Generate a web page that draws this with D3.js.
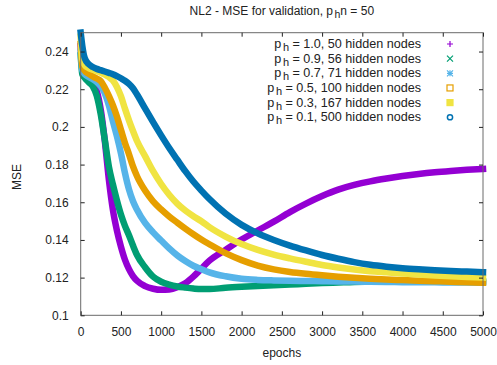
<!DOCTYPE html>
<html><head><meta charset="utf-8">
<script src="https://cdn.jsdelivr.net/npm/d3@7/dist/d3.min.js"></script>
<style>
body{margin:0;background:#fff}
text{font-family:"Liberation Sans",Arial,sans-serif;fill:#222}
</style>
</head><body>
<svg id="chart" width="497" height="365"></svg>
<script>
// ---- data ----
const epochs = [0,20,50,100,150,200,250,300,350,400,450,500,550,600,650,700,800,900,1000,1100,1200,1300,1400,1500,1600,1800,2000,2200,2400,2600,2800,3000,3200,3400,3600,3800,4000,4200,4400,4600,4800,5000];

const mse_ph10 = [0.243,0.232,0.2285,0.2265,0.2235,0.219,0.209,0.1925,0.172,0.156,0.145,0.1365,0.1295,0.1245,0.1208,0.1183,0.1155,0.1141,0.1135,0.1137,0.1149,0.117,0.1205,0.1248,0.129,0.1347,0.1402,0.145,0.1497,0.1548,0.1593,0.1633,0.1667,0.1692,0.1711,0.1726,0.1739,0.175,0.1759,0.1766,0.1772,0.1777];
const mse_ph09 = [0.238,0.228,0.226,0.2237,0.2215,0.2165,0.2065,0.193,0.179,0.1695,0.161,0.1535,0.1475,0.1425,0.137,0.132,0.1255,0.1205,0.1178,0.1163,0.1153,0.1147,0.1142,0.1139,0.1139,0.1146,0.1151,0.1155,0.1159,0.1163,0.1167,0.1171,0.1174,0.1177,0.1178,0.1179,0.1179,0.118,0.118,0.118,0.118,0.118];
const mse_ph07 = [0.240,0.230,0.228,0.2265,0.2253,0.2238,0.2215,0.2178,0.2115,0.203,0.195,0.186,0.1755,0.1668,0.1605,0.156,0.149,0.144,0.1397,0.1355,0.1318,0.1288,0.1263,0.1245,0.1228,0.1207,0.1194,0.1188,0.1185,0.1183,0.1182,0.1181,0.118,0.1179,0.1178,0.1177,0.1176,0.1175,0.1175,0.1174,0.1174,0.1173];
const mse_ph05 = [0.244,0.232,0.2298,0.2282,0.2268,0.2257,0.2243,0.2208,0.2165,0.2115,0.2055,0.1985,0.1915,0.1855,0.179,0.1738,0.1662,0.1605,0.1562,0.1525,0.1492,0.146,0.143,0.1402,0.1377,0.133,0.1293,0.1264,0.1244,0.123,0.122,0.1212,0.1205,0.1199,0.1194,0.119,0.1187,0.1184,0.1181,0.1178,0.1175,0.1173];
const mse_ph03 = [0.248,0.236,0.2328,0.2312,0.2303,0.2296,0.2288,0.2278,0.2265,0.2246,0.2212,0.2163,0.2097,0.2035,0.1978,0.1925,0.1845,0.1765,0.1697,0.164,0.1593,0.1556,0.1526,0.1499,0.1468,0.1418,0.1378,0.1347,0.1322,0.1302,0.1284,0.1267,0.1254,0.1243,0.1234,0.1228,0.1222,0.1216,0.1211,0.1207,0.1203,0.12];
const mse_ph01 = [0.25,0.243,0.2365,0.2333,0.2318,0.2308,0.2301,0.2294,0.2287,0.228,0.227,0.2258,0.2245,0.2228,0.2205,0.2172,0.2098,0.2025,0.1955,0.1888,0.1826,0.1765,0.171,0.1662,0.1617,0.154,0.148,0.1435,0.140,0.137,0.1344,0.132,0.13,0.1282,0.1268,0.1258,0.125,0.1244,0.1239,0.1235,0.1232,0.1229];

const ph = ["1.0","0.9","0.7","0.5","0.3","0.1"];
const hiddenNodes = [50,56,71,100,167,500];
const seriesValues = [mse_ph10,mse_ph09,mse_ph07,mse_ph05,mse_ph03,mse_ph01];
const colors = ["#9400d3","#009e73","#56b4e9","#e69f00","#f0e442","#0072b2"];
const symbols = ["plus","cross","star","square","filledSquare","circle"];

const xTickValues = [0,500,1000,1500,2000,2500,3000,3500,4000,4500,5000];
const yTickValues = [0.1,0.12,0.14,0.16,0.18,0.2,0.22,0.24];

// ---- layout ----
const svg = d3.select("#chart");
const L = 80.7, R = 483, T = 32.7, B = 315.3;
const x = d3.scaleLinear().domain([0,5000]).range([L,R]);
const y = d3.scaleLinear().domain([0.1,0.25]).range([B,T]);

// curves
const line = d3.line().x(d=>x(d[0])).y(d=>y(d[1])).curve(d3.curveMonotoneX);
const gCurves = svg.append("g");
seriesValues.forEach((vals,i)=>{
  gCurves.append("path")
    .datum(epochs.map((e,k)=>[e,vals[k]]))
    .attr("d",line)
    .attr("fill","none")
    .attr("stroke",colors[i])
    .attr("stroke-width",6.5)
    .attr("stroke-linejoin","round")
    .attr("stroke-linecap","square");
});

// border
svg.append("rect").attr("x",L).attr("y",T).attr("width",R-L).attr("height",B-T)
  .attr("fill","none").attr("stroke","#6a6a6a").attr("stroke-width",1);

// axes with inward ticks, mirrored
const fmtY = d => String(+d.toFixed(2));
const axB = svg.append("g").attr("transform",`translate(0,${B})`)
  .call(d3.axisBottom(x).tickValues(xTickValues).tickSize(-4).tickPadding(12).tickFormat(d3.format("d")));
const axT = svg.append("g").attr("transform",`translate(0,${T})`)
  .call(d3.axisTop(x).tickValues(xTickValues).tickSize(-4).tickFormat(""));
const axL = svg.append("g").attr("transform",`translate(${L},0)`)
  .call(d3.axisLeft(y).tickValues(yTickValues).tickSize(-4).tickPadding(12).tickFormat(fmtY));
const axR = svg.append("g").attr("transform",`translate(${R},0)`)
  .call(d3.axisRight(y).tickValues(yTickValues).tickSize(-4).tickFormat(""));
[axB,axT,axL,axR].forEach(a=>{
  a.select(".domain").remove();
  a.selectAll(".tick line").attr("stroke","#222");
  a.selectAll("text").style("font-size","12px").attr("fill","#222")
   .style("font-family",'"Liberation Sans",Arial,sans-serif');
});

// title
const title = svg.append("text").attr("x",(L+R)/2).attr("y",15)
  .attr("text-anchor","middle").style("font-size","12px");
title.append("tspan").text("NL2 - MSE for validation, p");
title.append("tspan").text("h").attr("dy",3).attr("dx",1.5).style("font-size","10.5px");
title.append("tspan").text("n = 50").attr("dy",-3);

// axis titles
svg.append("text").attr("x",(L+R)/2).attr("y",357).attr("text-anchor","middle")
  .style("font-size","12px").text("epochs");
svg.append("text").attr("transform","translate(21,177) rotate(-90)")
  .attr("text-anchor","middle").style("font-size","12px").text("MSE");

// legend
const legY0 = 44, legDy = 14.65, legTextX = 421, legSymX = 450;
const gLeg = svg.append("g");
ph.forEach((p,i)=>{
  const yy = legY0 + i*legDy;
  const t = gLeg.append("text").attr("x",legTextX).attr("y",yy+4)
    .attr("text-anchor","end").style("font-size","12.6px");
  t.append("tspan").text("p");
  t.append("tspan").text("h").attr("dy",3).attr("dx",1.5).style("font-size","11px");
  t.append("tspan").text(` = ${p}, ${hiddenNodes[i]} hidden nodes`).attr("dy",-3);
  const g = gLeg.append("g").attr("transform",`translate(${legSymX},${yy})`)
    .attr("stroke",colors[i]).attr("stroke-width",1.2).attr("fill","none");
  const s = 3;
  if(symbols[i]==="plus"){ g.append("path").attr("d",`M${-s},0H${s}M0,${-s}V${s}`); }
  else if(symbols[i]==="cross"){ g.append("path").attr("d",`M${-s},${-s}L${s},${s}M${-s},${s}L${s},${-s}`); }
  else if(symbols[i]==="star"){ g.append("path").attr("d",`M${-s},0H${s}M0,${-s}V${s}M${-s},${-s}L${s},${s}M${-s},${s}L${s},${-s}`); }
  else if(symbols[i]==="square"){ g.append("rect").attr("x",-s).attr("y",-s).attr("width",2*s).attr("height",2*s); }
  else if(symbols[i]==="filledSquare"){ g.append("rect").attr("x",-s).attr("y",-s).attr("width",2*s).attr("height",2*s).attr("fill",colors[i]); }
  else { g.append("circle").attr("r",2.6).attr("stroke-width",1.5); }
});
</script>
</body></html>
